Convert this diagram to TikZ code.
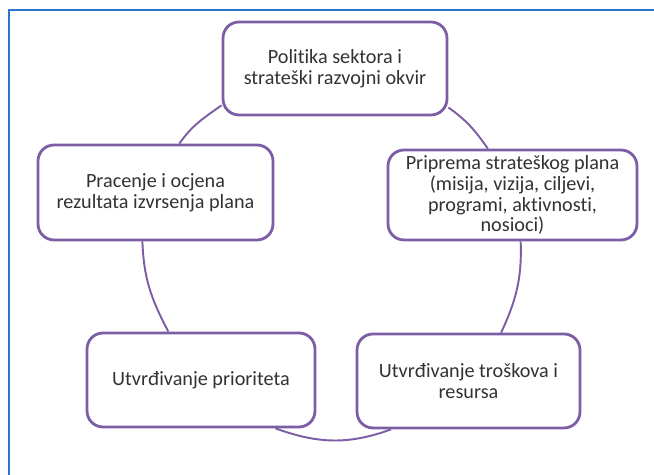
\documentclass[tikz,border=0pt]{standalone}
\usepackage{fontspec}
\setmainfont[Ligatures=NoCommon]{Carlito}
\definecolor{cyclepurple}{RGB}{124,94,165}
\definecolor{frameblue}{RGB}{47,117,200}
\definecolor{textgray}{RGB}{50,50,50}

\begin{document}
\begin{tikzpicture}[x=0.02cm,y=0.02cm,
	stage/.style={draw=cyclepurple,line width=1.6pt,rounded corners=0.32cm,fill=white,
		align=center,text=textgray,inner sep=0pt,font=\fontsize{11.5}{11.9}\selectfont},
	link/.style={draw=cyclepurple,line width=1.1pt}]
		\useasboundingbox (0,0) rectangle (654,475);
		% frame round the figure
		\draw[frameblue,line width=1.2pt] (9,0) -- (9,465) -- (654,465);
		
		\node[stage,minimum width=4.48cm,minimum height=1.86cm] (politika) at (335,406.5) {Politika sektora i\\strateški razvojni okvir};
		\node[stage,minimum width=4.98cm,minimum height=1.8cm] (priprema) at (512.5,280) {Priprema strateškog plana\\(misija, vizija, ciljevi,\\programi, aktivnosti,\\nosioci)};
		\node[stage,minimum width=4.46cm,minimum height=1.88cm] (troskovi) at (468.5,94) {Utvrđivanje troškova i\\resursa};
		\node[stage,minimum width=4.56cm,minimum height=1.88cm] (prioriteti) at (201,95) {Utvrđivanje prioriteta};
		\node[stage,minimum width=4.7cm,minimum height=1.9cm] (pracenje) at (155.5,282.5) {Pracenje i ocjena\\rezultata izvrsenja plana};
		
		% the cycle
		\draw[link] (politika.198) to[out=215,in=55] (pracenje.64);
		\draw[link] (pracenje.255) to[out=272,in=118] (prioriteti.124);
		\draw[link] (prioriteti.327) to[out=-20,in=200] (troskovi.212);
		\draw[link] (troskovi.56) to[out=65,in=-88] (priprema.280);
		\draw[link] (priprema.118) to[out=125,in=-35] (politika.-19);
		%\draw[link] (335,213) ellipse[x radius=192,y radius=176];
	\end{tikzpicture}
\end{document}
